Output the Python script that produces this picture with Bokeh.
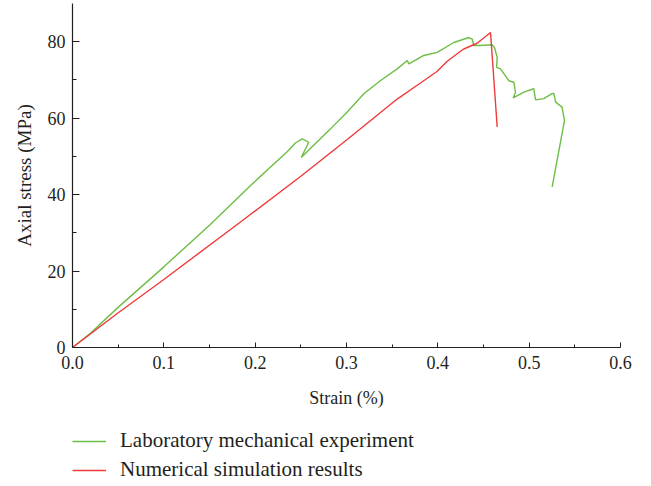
from bokeh.plotting import figure
from bokeh.models import FixedTicker, PrintfTickFormatter, Legend, LegendItem, Range1d
from bokeh.layouts import column
from bokeh.embed import file_html
from bokeh.resources import INLINE

# Laboratory mechanical experiment (green)
green_strain = [0, 0.02, 0.049, 0.1, 0.15, 0.195, 0.235, 0.244, 0.2515, 0.2587, 0.2504,
                0.2825, 0.3008, 0.319, 0.337, 0.3555, 0.3665, 0.3683, 0.3846, 0.3993,
                0.4175, 0.434, 0.4376, 0.4394, 0.445, 0.4595, 0.462, 0.465, 0.4643,
                0.4686, 0.4777, 0.4832, 0.485, 0.4825, 0.4942, 0.505, 0.507, 0.516,
                0.525, 0.527, 0.529, 0.536, 0.5387, 0.5252]
green_stress = [0, 3.8, 10.3, 21.1, 32.0, 42.4, 51.2, 53.5, 54.6, 53.7, 49.7,
                57.2, 61.6, 66.4, 69.8, 72.9, 75.1, 74.2, 76.4, 77.2,
                79.8, 81.1, 80.7, 79.0, 79.0, 79.2, 78.5, 75.9, 73.3,
                72.9, 69.8, 69.4, 66.8, 65.3, 66.8, 67.7, 64.8, 65.1,
                66.4, 66.5, 64.2, 62.9, 59.4, 42.0]

# Numerical simulation results (red)
red_strain = [0, 0.049, 0.1, 0.1876, 0.25, 0.3008, 0.3555, 0.381, 0.399, 0.4103,
              0.4248, 0.4284, 0.443, 0.4577, 0.465]
red_stress = [0, 8.9, 17.8, 33.5, 44.8, 54.4, 65.0, 69.2, 72.2, 74.9,
              77.5, 78.1, 79.6, 82.4, 57.7]

x_ticks = [0, 0.1, 0.2, 0.3, 0.4, 0.5, 0.6]
x_minor = [0.05, 0.15, 0.25, 0.35, 0.45, 0.55]
y_ticks = [0, 20, 40, 60, 80]
y_minor = [10, 30, 50, 70]

labels = ["Laboratory mechanical experiment", "Numerical simulation results"]
colors = ["#6cbe45", "#ee3a3a"]

FONT = "Liberation Serif"
TXT = "#231f20"

p = figure(width=651, height=410, output_backend="svg", toolbar_location=None,
           x_range=Range1d(0, 0.6), y_range=Range1d(0, 90),
           min_border_left=72, min_border_right=31, min_border_top=3,
           min_border_bottom=63)
p.outline_line_color = None
p.grid.visible = False

p.line(green_strain, green_stress, line_color=colors[0], line_width=1.4)
p.line(red_strain, red_stress, line_color=colors[1], line_width=1.4)

xa = p.xaxis[0]
xa.ticker = FixedTicker(ticks=x_ticks, minor_ticks=x_minor)
xa.formatter = PrintfTickFormatter(format="%.1f")
xa.axis_label = "Strain (%)"
ya = p.yaxis[0]
ya.ticker = FixedTicker(ticks=y_ticks, minor_ticks=y_minor)
ya.formatter = PrintfTickFormatter(format="%d")
ya.axis_label = "Axial stress (MPa)"

for ax in (xa, ya):
    ax.axis_line_color = TXT
    ax.axis_line_width = 1.2
    ax.major_tick_line_color = TXT
    ax.minor_tick_line_color = TXT
    ax.major_tick_out = 0
    ax.minor_tick_out = 0
    ax.major_label_text_font = FONT
    ax.major_label_text_font_size = "18px"
    ax.major_label_text_color = TXT
    ax.axis_label_text_font = FONT
    ax.axis_label_text_font_style = "normal"
    ax.axis_label_text_color = TXT

xa.axis_label_text_font_size = "18px"
ya.axis_label_text_font_size = "19px"
xa.major_label_standoff = 8
ya.major_label_standoff = 7
xa.major_tick_in = 5
xa.minor_tick_in = 3
ya.major_tick_in = 7
ya.minor_tick_in = 4
xa.axis_label_standoff = 16
ya.axis_label_standoff = 10

# Legend panel below the chart (its renderers lie outside its view)
q = figure(width=651, height=76, output_backend="svg", toolbar_location=None,
           x_range=Range1d(10, 11), y_range=Range1d(500, 501),
           x_axis_type=None, y_axis_type=None, min_border=0)
q.grid.visible = False
q.outline_line_color = None
lg = q.line(green_strain, green_stress, line_color=colors[0], line_width=1.4)
lr = q.line(red_strain, red_stress, line_color=colors[1], line_width=1.4)

legend = Legend(items=[LegendItem(label=labels[0], renderers=[lg]),
                       LegendItem(label=labels[1], renderers=[lr])],
                location=(0, 4), orientation="vertical",
                border_line_color=None, background_fill_alpha=0,
                padding=0, margin=0, spacing=4,
                glyph_width=34, glyph_height=20, label_height=20,
                label_standoff=14,
                label_text_font=FONT, label_text_font_size="21px",
                label_text_color=TXT)
q.add_layout(legend, "center")

open("out.html", "w").write(file_html(column(p, q, spacing=0), INLINE))
